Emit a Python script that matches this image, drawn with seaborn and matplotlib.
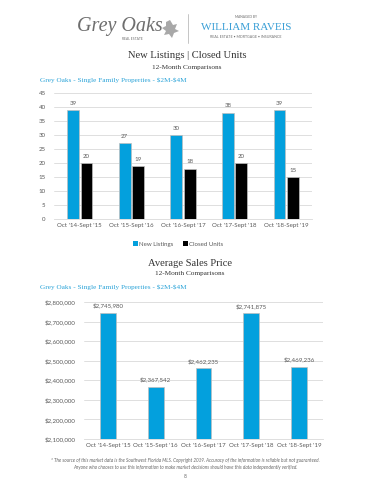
import matplotlib
matplotlib.use("Agg")
import matplotlib.pyplot as plt
import seaborn as sns
import pandas as pd
from matplotlib.ticker import FuncFormatter
from matplotlib.patches import Patch, Polygon
from matplotlib.lines import Line2D

# ---------------- data ----------------
periods = ["Oct '14-Sept '15", "Oct '15-Sept '16", "Oct '16-Sept '17",
           "Oct '17-Sept '18", "Oct '18-Sept '19"]
new_listings = [39, 27, 30, 38, 39]
closed_units = [20, 19, 18, 20, 15]
avg_price = [2745980, 2367542, 2462235, 2741875, 2469236]
series_names = ["New Listings", "Closed Units"]
units_ticks = [0, 5, 10, 15, 20, 25, 30, 35, 40, 45]
price_ticks = [2100000, 2200000, 2300000, 2400000, 2500000, 2600000, 2700000, 2800000]

BLUE = "#03A0DD"
SUB_BLUE = "#2AA3D8"
GRAY_TXT = "#595959"
SANS = "Lato"
SERIF = "Liberation Serif"

sns.set_theme(style="white")
plt.rcParams["font.family"] = [SANS, "DejaVu Sans"]

fig = plt.figure(figsize=(3.7, 4.8), dpi=100)
fig.patch.set_facecolor("white")

def fx(px):
    return px / 370.0

def fy(py):
    return 1 - py / 480.0

# ---------------- header / logo ----------------
fig.text(fx(120), fy(27), "Grey Oaks", family=SERIF, style="italic", fontsize=14.5,
         color="#6e6e6e", ha="center", va="center")
fig.text(fx(132), fy(38.5), "REAL ESTATE", family=SANS, fontsize=2.4,
         color="#6e6e6e", ha="center", va="center")
leaf = [(170, 20), (173, 25), (177, 24), (175, 29), (179, 31), (174, 33), (172, 38),
        (169, 34), (164, 35), (166, 31), (162, 28), (166, 26), (166, 22)]
fig.add_artist(Polygon([(fx(x), fy(y)) for x, y in leaf], closed=True,
                       facecolor="#a8a8a8", edgecolor="none"))
fig.add_artist(Line2D([fx(188), fx(188)], [fy(14), fy(43)], color="#bbbbbb", lw=0.6))
fig.text(fx(246), fy(16.5), "MANAGED BY", family=SANS, fontsize=2.4,
         color="#6e6e6e", ha="center", va="center")
fig.text(fx(246), fy(27), "WILLIAM RAVEIS", family=SERIF, fontsize=8,
         color="#3a9fd6", ha="center", va="center")
fig.text(fx(246), fy(36.5), "REAL ESTATE \u2022 MORTGAGE \u2022 INSURANCE", family=SANS,
         fontsize=2.6, color="#6e6e6e", ha="center", va="center")

# ---------------- chart 1 titles ----------------
fig.text(fx(187), fy(55), "New Listings | Closed Units", family=SERIF, fontsize=7.6,
         color="#333333", ha="center", va="center")
fig.text(fx(187), fy(68), "12-Month Comparisons", family=SERIF, fontsize=5.2,
         color="#333333", ha="center", va="center")
fig.text(fx(40), fy(80), "Grey Oaks - Single Family Properties - \\$2M-\\$4M", family=SERIF,
         fontsize=5.2, color=SUB_BLUE, ha="left", va="center")

# ---------------- chart 1 ----------------
df1 = pd.DataFrame({
    "Period": periods * 2,
    "Series": [series_names[0]] * len(periods) + [series_names[1]] * len(periods),
    "Value": new_listings + closed_units,
})
ax1 = fig.add_axes([fx(54), fy(219), fx(312) - fx(54), fy(93) - fy(219)])
sns.barplot(data=df1, x="Period", y="Value", hue="Series", order=periods,
            hue_order=series_names, palette=[BLUE, "#000000"], saturation=1,
            width=0.52, gap=0.12, edgecolor="#bfbfbf", linewidth=0.5, ax=ax1, legend=False)
ax1.set_ylim(0, 45)
ax1.set_yticks(units_ticks)
ax1.yaxis.grid(True, color="#d9d9d9", lw=0.6)
ax1.set_axisbelow(True)
for s in ["top", "right", "left"]:
    ax1.spines[s].set_visible(False)
ax1.spines["bottom"].set_color("#d9d9d9")
ax1.spines["bottom"].set_linewidth(0.6)
ax1.set_xlabel("")
ax1.set_ylabel("")
ax1.tick_params(axis="both", length=0, labelsize=4.4, labelcolor=GRAY_TXT, pad=3)
ax1.tick_params(axis="y", pad=6)
for cont in ax1.containers:
    ax1.bar_label(cont, fmt="%d", fontsize=4.4, color=GRAY_TXT, padding=3)

handles = [Patch(facecolor=BLUE, edgecolor="none"), Patch(facecolor="#000000", edgecolor="none")]
fig.legend(handles, series_names, loc="center", bbox_to_anchor=(fx(178), fy(244)),
           ncol=2, frameon=False, fontsize=4.4, handlelength=0.8, handleheight=0.8,
           handletextpad=0.2, columnspacing=1.6, labelcolor=GRAY_TXT)

# ---------------- chart 2 titles ----------------
fig.text(fx(190), fy(264), "Average Sales Price", family=SERIF, fontsize=7.6,
         color="#333333", ha="center", va="center")
fig.text(fx(190), fy(274), "12-Month Comparisons", family=SERIF, fontsize=5.2,
         color="#333333", ha="center", va="center")
fig.text(fx(40), fy(287), "Grey Oaks - Single Family Properties - \\$2M-\\$4M", family=SERIF,
         fontsize=5.2, color=SUB_BLUE, ha="left", va="center")

# ---------------- chart 2 ----------------
df2 = pd.DataFrame({"Period": periods, "Price": avg_price})
ax2 = fig.add_axes([fx(84), fy(439), fx(323) - fx(84), fy(302) - fy(439)])
sns.barplot(data=df2, x="Period", y="Price", order=periods, color=BLUE, saturation=1,
            width=0.33, edgecolor="#bfbfbf", linewidth=0.5, ax=ax2)
ax2.set_ylim(2100000, 2800000)
ax2.set_yticks(price_ticks)
ax2.yaxis.set_major_formatter(FuncFormatter(lambda v, p: "${:,.0f}".format(v)))
ax2.yaxis.grid(True, color="#d9d9d9", lw=0.6)
ax2.set_axisbelow(True)
for s in ["top", "right", "left"]:
    ax2.spines[s].set_visible(False)
ax2.spines["bottom"].set_color("#d9d9d9")
ax2.spines["bottom"].set_linewidth(0.6)
ax2.set_xlabel("")
ax2.set_ylabel("")
ax2.tick_params(axis="both", length=0, labelsize=4.4, labelcolor=GRAY_TXT, pad=3)
ax2.tick_params(axis="y", pad=6)
for cont in ax2.containers:
    ax2.bar_label(cont, labels=["${:,.0f}".format(v) for v in avg_price],
                  fontsize=4.4, color=GRAY_TXT, padding=3)

# ---------------- footnote ----------------
fig.text(fx(185), fy(460), "* The source of this market data is the Southwest Florida MLS. "
         "Copyright 2019. Accuracy of the information is reliable but not guaranteed.",
         fontsize=3.3, style="italic", color="#666666", ha="center", va="center")
fig.text(fx(185), fy(467), "Anyone who chooses to use this information to make market "
         "decisions should have this data independently verified.",
         fontsize=3.3, style="italic", color="#666666", ha="center", va="center")
fig.text(fx(185), fy(477), "8", fontsize=3.5, color="#666666", ha="center", va="center")

fig.savefig("out.png", dpi=100, facecolor="white")
